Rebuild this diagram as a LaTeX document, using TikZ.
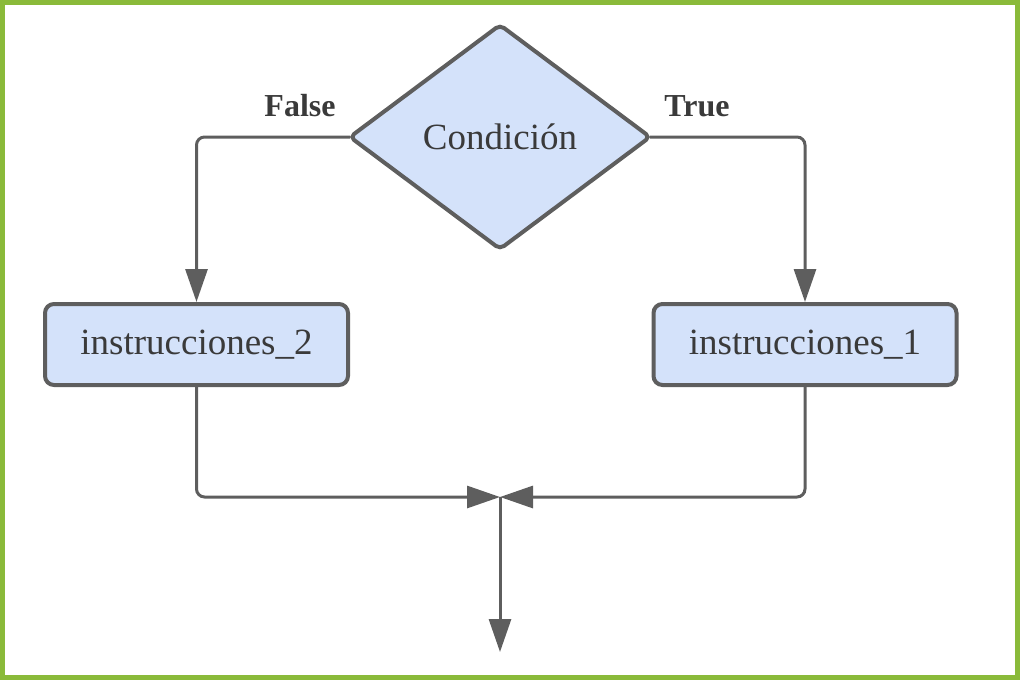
\documentclass[tikz,border=0pt]{standalone}
\usepackage{fontspec}
\setmainfont{Liberation Serif}
\usetikzlibrary{shapes.geometric,arrows.meta}
\definecolor{frame}{RGB}{138,186,58}
\definecolor{boxfill}{RGB}{212,226,250}
\definecolor{linegray}{RGB}{94,94,94}
\definecolor{txtgray}{RGB}{58,58,58}

\begin{document}
\begin{tikzpicture}[
      x=1pt, y=-1pt,
      font=\fontsize{37}{44}\selectfont,
      box/.style={draw=linegray, fill=boxfill, line width=4pt, rounded corners=9pt, text=txtgray, inner sep=0pt},
      instr/.style={box, minimum width=303pt, minimum height=81pt},
      cond/.style={box, diamond, rounded corners=5pt, outer sep=0pt, minimum width=300pt, minimum height=224pt},
      lbl/.style={font=\fontsize{32}{38}\selectfont\bfseries, text=txtgray},
      arr/.style={draw=linegray, line width=3pt, rounded corners=8pt, -{Triangle[length=33pt, width=22pt]}}]
    \useasboundingbox (0,0) rectangle (1020,680);
    \draw[frame, line width=5pt] (2.5,2.5) rectangle (1017.5,677.5);
    \node[cond] (c) at (500,137) {Condición};
    \node[instr] (i2) at (196.5,344.5) {instrucciones\_2};
    \node[instr] (i1) at (805,344.5) {instrucciones\_1};
    \node[lbl] (f) at (300,106) {False};
    \node[lbl] (t) at (697,106) {True};
    \coordinate (j) at (500,497);
    \coordinate (e) at (500,652);
    \draw[arr] (c.west) -| (i2.north);
    \draw[arr] (c.east) -| (i1.north);
    \draw[arr] (i2.south) |- (j);
    \draw[arr] (i1.south) |- (j);
    \draw[arr] (j) -- (e);
  \end{tikzpicture}
\end{document}
